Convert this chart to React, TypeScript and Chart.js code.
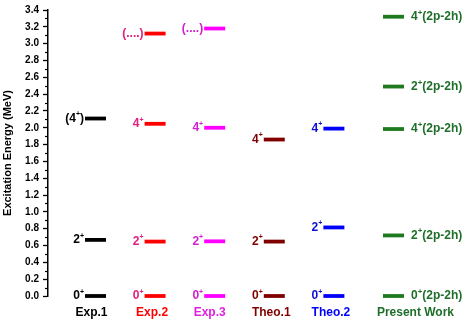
import React, { useEffect, useRef } from 'react';
import { Chart, registerables } from 'chart.js';

Chart.register(...registerables);

// ---------- data ----------
const categories = ['Exp.1', 'Exp.2', 'Exp.3', 'Theo.1', 'Theo.2', 'Present Work'];

const exp1Energies = [0, 0.667, 2.11];
const exp1Labels = ['0+', '2+', '(4+)'];

const exp2Energies = [0, 0.647, 2.047, 3.12];
const exp2Labels = ['0+', '2+', '4+', '(....)'];

const exp3Energies = [0, 0.65, 2.0, 3.18];
const exp3Labels = ['0+', '2+', '4+', '(....)'];

const theo1Energies = [0, 0.647, 1.86];
const theo1Labels = ['0+', '2+', '4+'];

const theo2Energies = [0, 0.815, 1.99];
const theo2Labels = ['0+', '2+', '4+'];

const presentEnergies = [0, 0.72, 1.985, 2.49, 3.32];
const presentLabels = ['0+(2p-2h)', '2+(2p-2h)', '4+(2p-2h)', '2+(2p-2h)', '4+(2p-2h)'];

const yMin = 0;
const yMax = 3.4;
const yStep = 0.2;

// ---------- styles ----------
const categoryColors = ['#000000', '#ff0000', '#e020e0', '#800000', '#0000ff', '#1f6e2a'];
const categoryLabelShift = [-4, -3, -5, -3, -3, 22];
const barColors = ['#000000', '#ff0000', '#ff00ff', '#800000', '#0000ff', '#1f7a1f'];
const textColors = ['#000000', '#e0207f', '#d020d0', '#800000', '#1010d0', '#1f6e2a'];
const labelSides = ['left', 'left', 'left', 'left', 'left', 'right'];

const seriesEnergies = [exp1Energies, exp2Energies, exp3Energies, theo1Energies, theo2Energies, presentEnergies];
const seriesLabels = [exp1Labels, exp2Labels, exp3Labels, theo1Labels, theo2Labels, presentLabels];

const FONT = 'Arial, "Liberation Sans", sans-serif';
const HALF_BAR = 10.5;

function drawRich(
  ctx: CanvasRenderingContext2D,
  text: string,
  x: number,
  y: number,
  align: 'left' | 'right',
  baseSize: number,
  supSize: number,
  color: string
) {
  const parts: { t: string; sup: boolean }[] = [];
  for (const ch of text) {
    const sup = ch === '+';
    const last = parts[parts.length - 1];
    if (last && last.sup === sup) last.t += ch;
    else parts.push({ t: ch, sup });
  }
  const widths = parts.map((p) => {
    ctx.font = `bold ${p.sup ? supSize : baseSize}px ${FONT}`;
    return ctx.measureText(p.t).width;
  });
  const total = widths.reduce((a, b) => a + b, 0);
  let cx = align === 'right' ? x - total : x;
  ctx.fillStyle = color;
  ctx.textAlign = 'left';
  ctx.textBaseline = 'middle';
  parts.forEach((p, i) => {
    ctx.font = `bold ${p.sup ? supSize : baseSize}px ${FONT}`;
    ctx.fillText(p.t, cx, p.sup ? y - baseSize * 0.35 : y);
    cx += widths[i];
  });
}

const levelLabelPlugin = {
  id: 'levelLabels',
  afterDatasetsDraw(chart: any) {
    const ctx = chart.ctx as CanvasRenderingContext2D;
    ctx.save();
    chart.data.datasets.forEach((ds: any, di: number) => {
      const meta = chart.getDatasetMeta(di);
      meta.data.forEach((pt: any, i: number) => {
        const label = seriesLabels[di][i];
        if (labelSides[di] === 'left') {
          drawRich(ctx, label, pt.x - HALF_BAR - 1, pt.y, 'right', 12, 7, textColors[di]);
        } else {
          drawRich(ctx, label, pt.x + HALF_BAR + 7, pt.y, 'left', 12, 8, textColors[di]);
        }
      });
    });
    // category labels
    const xs = chart.scales.x;
    const ys = chart.scales.y;
    const yl = ys.getPixelForValue(yMin) + 17;
    ctx.font = `bold 12px ${FONT}`;
    ctx.textAlign = 'center';
    ctx.textBaseline = 'middle';
    categories.forEach((c, i) => {
      ctx.fillStyle = categoryColors[i];
      ctx.fillText(c, xs.getPixelForValue(i) + categoryLabelShift[i], yl);
    });
    ctx.restore();
  },
};

const minorTickPlugin = {
  id: 'minorTicks',
  afterDraw(chart: any) {
    const ctx = chart.ctx as CanvasRenderingContext2D;
    const ys = chart.scales.y;
    const x0 = chart.chartArea.left;
    ctx.save();
    ctx.strokeStyle = '#000';
    ctx.lineWidth = 1.2;
    for (let v = yMin + yStep / 2; v < yMax; v += yStep) {
      const py = Math.round(ys.getPixelForValue(v)) + 0.5;
      ctx.beginPath();
      ctx.moveTo(x0 - 3, py);
      ctx.lineTo(x0, py);
      ctx.stroke();
    }
    ctx.restore();
  },
};

export default function App() {
  const ref = useRef<HTMLCanvasElement | null>(null);

  useEffect(() => {
    if (!ref.current) return;
    const datasets = seriesEnergies.map((arr, di) => ({
      label: categories[di],
      data: arr.map((e) => ({ x: di, y: e })),
      pointStyle: 'line',
      pointRadius: HALF_BAR,
      pointBorderWidth: 3.8,
      borderColor: barColors[di],
      backgroundColor: barColors[di],
      showLine: false,
      clip: false as any,
    }));

    const chart = new Chart(ref.current, {
      type: 'scatter',
      data: { datasets: datasets as any },
      options: {
        animation: false,
        responsive: false,
        events: [],
        layout: { autoPadding: false, padding: { top: 5, left: 0, right: 0, bottom: 0 } },
        plugins: { legend: { display: false }, tooltip: { enabled: false } },
        scales: {
          x: {
            type: 'linear',
            min: -0.797,
            max: 6.284,
            grid: { display: false, drawTicks: false },
            border: { display: false },
            ticks: { display: false },
            afterFit: (scale: any) => {
              scale.height = 24;
            },
          },
          y: {
            type: 'linear',
            min: yMin,
            max: yMax,
            afterBuildTicks: (scale: any) => {
              const t = [];
              for (let i = 0; i <= Math.round((yMax - yMin) / yStep); i++) t.push({ value: +(yMin + i * yStep).toFixed(2) });
              scale.ticks = t;
            },
            afterFit: (scale: any) => {
              scale.width = 48;
            },
            grid: { drawOnChartArea: false, tickLength: 5, tickColor: '#000', tickWidth: 1.3 },
            border: { color: '#000', width: 1.5 },
            ticks: {
              padding: 4,
              color: '#000',
              font: { family: FONT, size: 10, weight: 'bold' },
              callback: (v: any) => Number(v).toFixed(1),
            },
            title: {
              display: true,
              text: 'Excitation Energy (MeV)',
              color: '#000',
              font: { family: FONT, size: 11, weight: 'bold' },
              padding: { top: 1, bottom: 0 },
            },
          },
        },
      },
      plugins: [levelLabelPlugin, minorTickPlugin],
    });
    return () => chart.destroy();
  }, []);

  return (
    <div style={{ position: 'fixed', left: 0, top: 0, width: 470, height: 320, background: '#fff' }}>
      <canvas ref={ref} width={470} height={320} style={{ width: 470, height: 320 }} />
    </div>
  );
}
